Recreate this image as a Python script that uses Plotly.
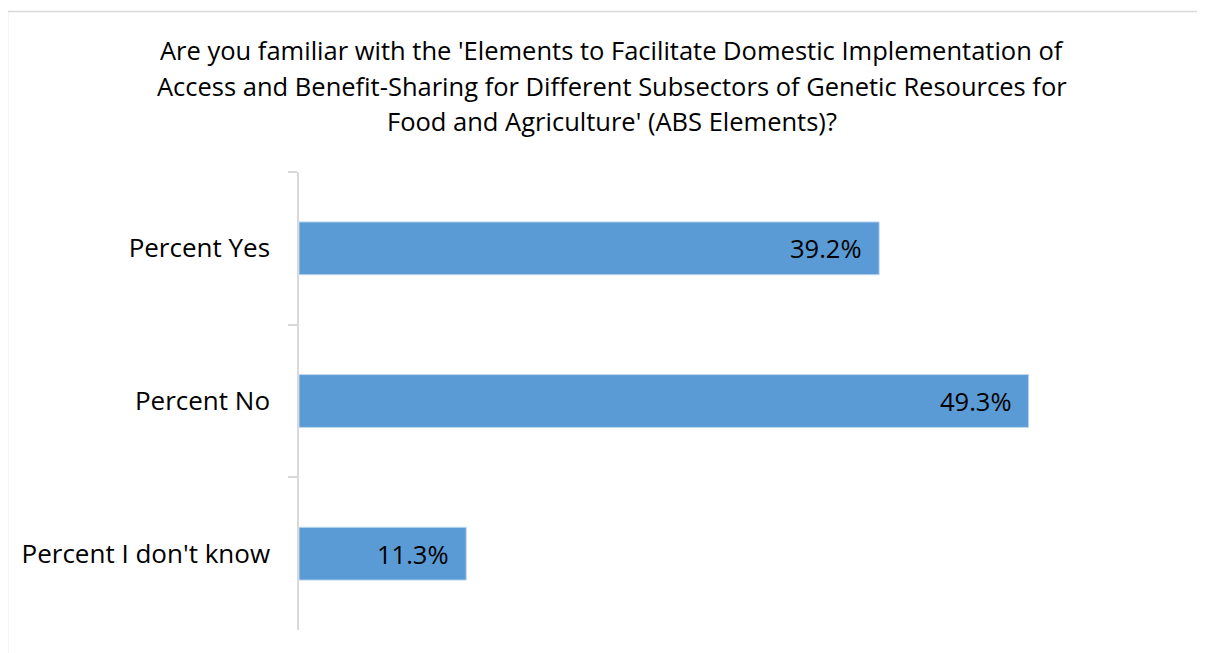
import plotly.graph_objects as go

categories = ["Percent Yes", "Percent No", "Percent I don't know"]
values = [39.2, 49.3, 11.3]
labels = ["39.2%", "49.3%", "11.3%"]
title_lines = [
    "Are you familiar with the 'Elements to Facilitate Domestic Implementation of",
    "Access and Benefit-Sharing for Different Subsectors of Genetic Resources for",
    "Food and Agriculture' (ABS Elements)?",
]

FONT = "Open Sans"
OFF = 8  # page body margin
L, R, T, B = 299 - OFF, 1187 - OFF, 172 - OFF, 630 - OFF
W, H = 1205, 653

fig = go.Figure()
fig.add_trace(go.Bar(
    y=categories, x=values, orientation="h",
    marker=dict(color="#5B9BD5", line=dict(color="#BDD7EE", width=1)),
    hoverinfo="skip",
))

for c, v, t in zip(categories, values, labels):
    fig.add_annotation(x=v, y=c, xref="x", yref="y", text=t, showarrow=False,
                       xanchor="right", xshift=-15,
                       font=dict(family=FONT, size=25.5, color="#000000"))

def px_y(py):
    return (B - (py - OFF)) / (B - T)

def px_x(px):
    return ((px - OFF) - L) / (R - L)

for line, py in zip(title_lines, [50, 86, 121]):
    fig.add_annotation(x=px_x(612), y=px_y(py), xref="paper", yref="paper",
                       text=line, showarrow=False, xanchor="center", yanchor="middle",
                       font=dict(family=FONT, size=25.5, color="#000000"))

fig.add_shape(type="rect", xref="paper", yref="paper",
              x0=px_x(7.5), x1=px_x(1225), y0=px_y(11.5), y1=px_y(680),
              line=dict(color="#D9D9D9", width=1.5), fillcolor="rgba(0,0,0,0)", layer="below")

fig.update_layout(
    width=W, height=H,
    margin=dict(l=L, r=W - R, t=T, b=H - B, autoexpand=False),
    paper_bgcolor="white", plot_bgcolor="white",
    bargap=0.654,
    showlegend=False,
    font=dict(family=FONT, color="#000000"),
    xaxis=dict(range=[0, 60], showgrid=False, zeroline=False, showticklabels=False,
               showline=False, ticks=""),
    yaxis=dict(autorange="reversed", showgrid=False, zeroline=False,
               showline=True, linecolor="#D9D9D9", linewidth=1.5,
               ticks="outside", ticklen=9, tickcolor="#D9D9D9", tickwidth=1.5,
               tickson="boundaries", ticklabelstandoff=22,
               tickfont=dict(family=FONT, size=26, color="#000000")),
)

fig.write_html("out.html")
